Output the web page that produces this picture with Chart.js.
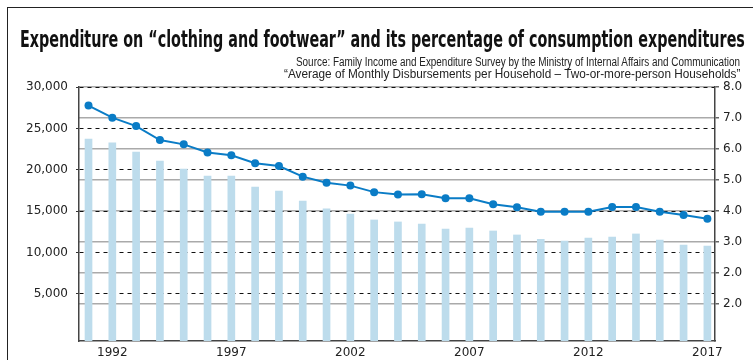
<!DOCTYPE html>
<html>
<head>
<meta charset="utf-8">
<script src="https://cdn.jsdelivr.net/npm/chart.js@4.4.1/dist/chart.umd.min.js"></script>
<style>
  html, body { margin: 0; padding: 0; background: #fff; overflow: hidden; }
  #wrap { position: relative; width: 753px; height: 360px; overflow: hidden; background: #fff; }
  #frame { position: absolute; left: 6.5px; top: 6.5px; width: 900px; height: 500px; border: 1.5px solid #222; box-sizing: border-box; }
  canvas { position: absolute; left: 0; top: 0; }
  .t { position: absolute; white-space: nowrap; color: #111; }
  #title { left: 20px; top: 28px; font: bold 23px "Liberation Sans Narrow", "DejaVu Sans Condensed", "Liberation Sans", sans-serif; line-height: 23px; transform-origin: left center; }
  #sub1, #sub2 { right: 13px; font: 12px "Liberation Sans Narrow", "Liberation Sans", sans-serif; line-height: 12px; transform-origin: right center; color: #222; }
  #sub1 { top: 56px; }
  #sub2 { top: 68px; }
</style>
</head>
<body>
<div id="wrap">
  <div id="frame"></div>
  <canvas id="c" width="753" height="360"></canvas>
  <div class="t" id="title">Expenditure on “clothing and footwear” and its percentage of consumption expenditures</div>
  <div class="t" id="sub1">Source: Family Income and Expenditure Survey by the Ministry of Internal Affairs and Communication</div>
  <div class="t" id="sub2">“Average of Monthly Disbursements per Household – Two-or-more-person Households”</div>
</div>
<script>
const years = [1991,1992,1993,1994,1995,1996,1997,1998,1999,2000,2001,2002,2003,2004,2005,2006,2007,2008,2009,2010,2011,2012,2013,2014,2015,2016,2017];
const expenditure = [23720,23270,22150,21060,20100,19250,19250,17920,17440,16230,15270,14660,13940,13700,13450,12850,12970,12610,12130,11600,11400,11760,11880,12250,11520,10920,10800];
const percentage = [7.40,7.01,6.74,6.29,6.15,5.89,5.80,5.54,5.45,5.11,4.91,4.82,4.61,4.53,4.54,4.41,4.41,4.22,4.12,3.98,3.98,3.98,4.13,4.13,3.98,3.87,3.75];
const xTickYears = [1992,1997,2002,2007,2012,2017];
const xTickLabels = ['1992','1997','2002','2007','2012','2017'];
const leftTicks = [5000,10000,15000,20000,25000,30000];
const leftTickLabels = ['5,000','10,000','15,000','20,000','25,000','30,000'];
const rightTicks = [1,2,3,4,5,6,7,8];
const rightTickLabels = ['2.0','2.0','3.0','4.0','5.0','6.0','7.0','8.0'];

function fitText(id, target) {
  const el = document.getElementById(id);
  const w = el.offsetWidth;
  el.style.transform = 'scaleX(' + (target / w) + ')';
}
fitText('title', 725);
fitText('sub1', 444);
fitText('sub2', 456);

const tickFont = { family: '"DejaVu Sans", sans-serif', size: 12 };

new Chart(document.getElementById('c'), {
  type: 'bar',
  data: {
    datasets: [
      {
        type: 'line',
        label: 'percentage',
        yAxisID: 'y1',
        data: years.map((yr, i) => ({ x: yr, y: percentage[i] })),
        borderColor: '#0a7cc6',
        backgroundColor: '#0a7cc6',
        borderWidth: 2,
        pointRadius: 4,
        pointBorderWidth: 0,
        pointBackgroundColor: '#0a7cc6',
        tension: 0,
        order: 0
      },
      {
        type: 'bar',
        label: 'expenditure',
        yAxisID: 'y',
        data: years.map((yr, i) => ({ x: yr, y: expenditure[i] })),
        backgroundColor: '#bddcec',
        barThickness: 7,
        base: -680,
        order: 1
      }
    ]
  },
  options: {
    responsive: false,
    devicePixelRatio: 1,
    animation: false,
    layout: { padding: { top: 87, left: 0, right: 0, bottom: 0 } },
    plugins: { legend: { display: false }, tooltip: { enabled: false }, title: { display: false } },
    scales: {
      x: {
        type: 'linear',
        min: 1990.6,
        max: 2017.32,
        offset: false,
        grid: { display: false, drawTicks: false, offset: false },
        border: { display: true, color: '#444', width: 1.5 },
        afterBuildTicks: (s) => { s.ticks = xTickYears.map(v => ({ value: v })); },
        afterFit: (s) => { s.height = 19; },
        ticks: {
          autoSkip: false, maxRotation: 0, padding: 5, color: '#222', font: tickFont,
          callback: (v) => { const i = xTickYears.indexOf(v); return i >= 0 ? xTickLabels[i] : ''; }
        }
      },
      y: {
        type: 'linear',
        position: 'left',
        min: -680,
        max: 30000,
        afterBuildTicks: (s) => { s.ticks = leftTicks.map(v => ({ value: v })); },
        afterFit: (s) => { s.width = 79; },
        grid: { color: '#111', lineWidth: 1, z: -1, drawTicks: true, tickLength: 3, tickColor: '#333', tickBorderDash: [] },
        border: { display: true, color: '#444', width: 1.5, dash: [4, 4] },
        ticks: {
          padding: 8, color: '#222', font: tickFont,
          callback: (v) => { const i = leftTicks.indexOf(v); return i >= 0 ? leftTickLabels[i] : ''; }
        }
      },
      y1: {
        type: 'linear',
        position: 'right',
        min: -0.19,
        max: 8,
        afterBuildTicks: (s) => { s.ticks = rightTicks.map(v => ({ value: v })); },
        afterFit: (s) => { s.width = 38; },
        grid: { color: '#aaaaaa', lineWidth: 1.5, z: -2, drawTicks: true, tickLength: 4, tickColor: '#666' },
        border: { display: true, color: '#444', width: 1.5 },
        ticks: {
          padding: 4, color: '#222', font: tickFont,
          callback: (v) => { const i = rightTicks.indexOf(v); return i >= 0 ? rightTickLabels[i] : ''; }
        }
      }
    }
  }
});
</script>
</body>
</html>
